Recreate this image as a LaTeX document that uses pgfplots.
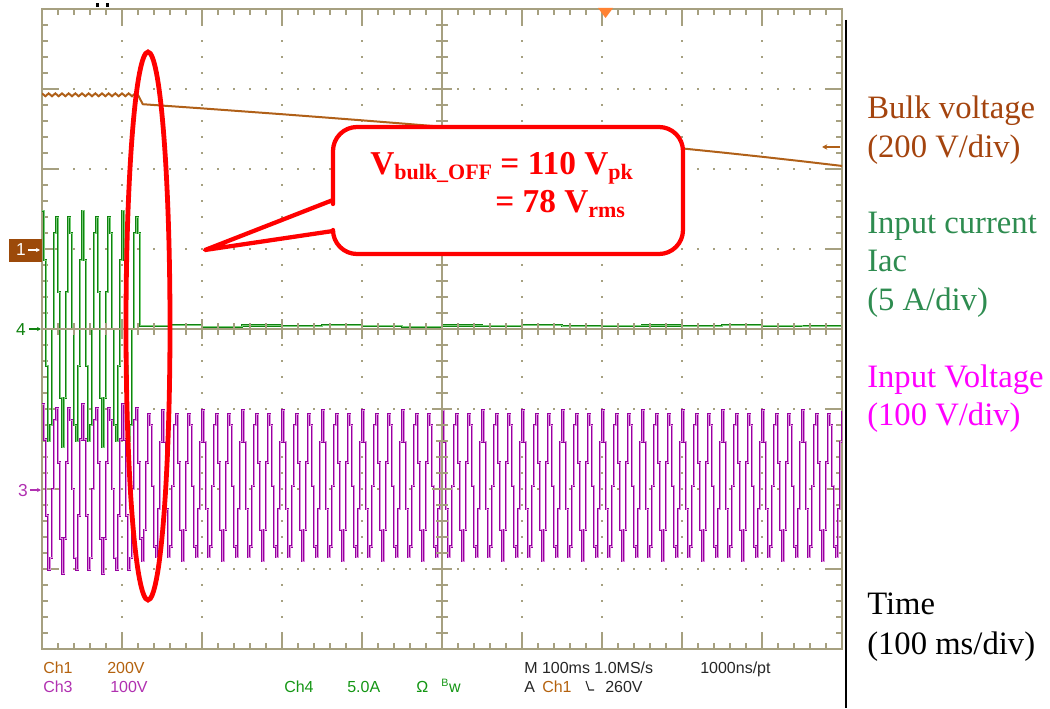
\documentclass[border=0pt]{standalone}
\usepackage{pgfplots}
\pgfplotsset{compat=1.18}
\usepackage{pgfplotstable}
\usepackage{fontspec}
\setmainfont{Liberation Serif}
\newfontfamily\scopefont{Liberation Sans}
\usetikzlibrary{arrows.meta}

\definecolor{scopegrid}{RGB}{166,160,128}
\definecolor{bulk}{RGB}{176,96,24}
\definecolor{bulktext}{RGB}{164,68,14}
\definecolor{curdark}{RGB}{16,130,16}
\definecolor{curlight}{RGB}{120,205,120}
\definecolor{curtext}{RGB}{46,140,80}
\definecolor{voldark}{RGB}{150,0,160}
\definecolor{vollight}{RGB}{220,140,220}
\definecolor{voltext}{RGB}{255,0,255}
\definecolor{ch1}{RGB}{180,98,14}
\definecolor{ch3}{RGB}{176,48,176}
\definecolor{ch4}{RGB}{20,150,20}
\definecolor{trig}{RGB}{255,130,50}
\definecolor{markbrown}{RGB}{156,74,10}

% Ch1: bulk voltage (ms, V)
\pgfplotstableread[row sep=\\]{
t v\\
0 389\\ 4.2 382\\ 8.3 389\\ 12.5 382\\ 16.7 389\\ 20.8 382\\ 25 389\\ 29.2 382\\ 33.3 389\\ 37.5 382\\
41.7 389\\ 45.8 382\\ 50 389\\ 54.2 382\\ 58.3 389\\ 62.5 382\\ 66.7 389\\ 70.8 382\\ 75 389\\ 79.2 382\\
83.3 389\\ 87.5 382\\ 91.7 389\\ 95.8 382\\ 100 389\\ 104.2 382\\ 108.3 389\\ 112.5 382\\ 116.7 389\\ 120 385\\
126 362\\ 150 358.6\\ 200 351.6\\ 250 344.3\\ 300 337.0\\ 350 329.4\\ 400 321.7\\ 450 313.8\\ 500 305.6\\
550 297.3\\ 600 288.7\\ 650 279.9\\ 700 270.7\\ 750 261.3\\ 800 251.5\\ 850 241.3\\ 900 230.6\\ 950 219.4\\ 1000 207.7\\
}\bulkdata

% Ch4: input current (ms, A)
\pgfplotstableread[row sep=\\]{
t v\\
0 7.4\\ 2.5 4.3\\ 5 -2.3\\ 7.5 -7.0\\ 10 -6.0\\ 12.5 0\\ 15 6.0\\ 17.5 7.0\\ 20 2.3\\ 22.5 -4.3\\
25 -7.4\\ 27.5 -4.3\\ 30 2.3\\ 32.5 7.0\\ 35 6.0\\ 37.5 0\\ 40 -6.0\\ 42.5 -7.0\\ 45 -2.3\\ 47.5 4.3\\
50 7.4\\ 52.5 4.3\\ 55 -2.3\\ 57.5 -7.0\\ 60 -6.0\\ 62.5 0\\ 65 6.0\\ 67.5 7.0\\ 70 2.3\\ 72.5 -4.3\\
75 -7.4\\ 77.5 -4.3\\ 80 2.3\\ 82.5 7.0\\ 85 6.0\\ 87.5 0\\ 90 -6.0\\ 92.5 -7.0\\ 95 -2.3\\ 97.5 4.3\\
100 7.4\\ 102.5 4.3\\ 105 -2.3\\ 107.5 -7.0\\ 110 -6.0\\ 112.5 0\\ 115 6.0\\ 117.5 7.0\\ 120 6.0\\ 122.5 0.2\\
160 0.25\\ 200 0.15\\ 250 0.22\\ 300 0.18\\ 350 0.25\\ 400 0.2\\ 450 0.15\\ 500 0.22\\ 550 0.2\\ 600 0.25\\
650 0.18\\ 700 0.2\\ 750 0.22\\ 800 0.17\\ 850 0.24\\ 900 0.2\\ 950 0.18\\ 1000 0.2\\
}\curdata

% Ch3: input voltage (ms, V)
\pgfplotstableread[row sep=\\]{
t v\\
0 106\\ 2.5 62\\ 5 -33\\ 7.5 -101\\ 10 -86\\ 12.5 0\\ 15 86\\ 17.5 101\\ 20 33\\ 22.5 -62\\ 25 -106\\ 27.5 -62\\ 30 33\\ 32.5 101\\ 35 86\\ 37.5 0\\ 40 -86\\ 42.5 -101\\ 45 -33\\ 47.5 62\\
50 106\\ 52.5 62\\ 55 -33\\ 57.5 -101\\ 60 -86\\ 62.5 0\\ 65 86\\ 67.5 101\\ 70 33\\ 72.5 -62\\ 75 -106\\ 77.5 -62\\ 80 33\\ 82.5 101\\ 85 86\\ 87.5 0\\ 90 -86\\ 92.5 -101\\ 95 -33\\ 97.5 62\\
100 106\\ 102.5 62\\ 105 -33\\ 107.5 -101\\ 110 -86\\ 112.5 0\\ 115 86\\ 117.5 101\\ 120 33\\ 122.5 -62\\ 125 -90\\ 127.5 -51\\ 130 33\\ 132.5 93\\ 135 80\\ 137.5 4\\ 140 -72\\ 142.5 -85\\ 145 -25\\ 147.5 59\\
150 98\\ 152.5 59\\ 155 -25\\ 157.5 -85\\ 160 -72\\ 162.5 4\\ 165 80\\ 167.5 93\\ 170 33\\ 172.5 -51\\ 175 -90\\ 177.5 -51\\ 180 33\\ 182.5 93\\ 185 80\\ 187.5 4\\ 190 -72\\ 192.5 -85\\ 195 -25\\ 197.5 59\\
200 98\\ 202.5 59\\ 205 -25\\ 207.5 -85\\ 210 -72\\ 212.5 4\\ 215 80\\ 217.5 93\\ 220 33\\ 222.5 -51\\ 225 -90\\ 227.5 -51\\ 230 33\\ 232.5 93\\ 235 80\\ 237.5 4\\ 240 -72\\ 242.5 -85\\ 245 -25\\ 247.5 59\\
250 98\\ 252.5 59\\ 255 -25\\ 257.5 -85\\ 260 -72\\ 262.5 4\\ 265 80\\ 267.5 93\\ 270 33\\ 272.5 -51\\ 275 -90\\ 277.5 -51\\ 280 33\\ 282.5 93\\ 285 80\\ 287.5 4\\ 290 -72\\ 292.5 -85\\ 295 -25\\ 297.5 59\\
300 98\\ 302.5 59\\ 305 -25\\ 307.5 -85\\ 310 -72\\ 312.5 4\\ 315 80\\ 317.5 93\\ 320 33\\ 322.5 -51\\ 325 -90\\ 327.5 -51\\ 330 33\\ 332.5 93\\ 335 80\\ 337.5 4\\ 340 -72\\ 342.5 -85\\ 345 -25\\ 347.5 59\\
350 98\\ 352.5 59\\ 355 -25\\ 357.5 -85\\ 360 -72\\ 362.5 4\\ 365 80\\ 367.5 93\\ 370 33\\ 372.5 -51\\ 375 -90\\ 377.5 -51\\ 380 33\\ 382.5 93\\ 385 80\\ 387.5 4\\ 390 -72\\ 392.5 -85\\ 395 -25\\ 397.5 59\\
400 98\\ 402.5 59\\ 405 -25\\ 407.5 -85\\ 410 -72\\ 412.5 4\\ 415 80\\ 417.5 93\\ 420 33\\ 422.5 -51\\ 425 -90\\ 427.5 -51\\ 430 33\\ 432.5 93\\ 435 80\\ 437.5 4\\ 440 -72\\ 442.5 -85\\ 445 -25\\ 447.5 59\\
450 98\\ 452.5 59\\ 455 -25\\ 457.5 -85\\ 460 -72\\ 462.5 4\\ 465 80\\ 467.5 93\\ 470 33\\ 472.5 -51\\ 475 -90\\ 477.5 -51\\ 480 33\\ 482.5 93\\ 485 80\\ 487.5 4\\ 490 -72\\ 492.5 -85\\ 495 -25\\ 497.5 59\\
500 98\\ 502.5 59\\ 505 -25\\ 507.5 -85\\ 510 -72\\ 512.5 4\\ 515 80\\ 517.5 93\\ 520 33\\ 522.5 -51\\ 525 -90\\ 527.5 -51\\ 530 33\\ 532.5 93\\ 535 80\\ 537.5 4\\ 540 -72\\ 542.5 -85\\ 545 -25\\ 547.5 59\\
550 98\\ 552.5 59\\ 555 -25\\ 557.5 -85\\ 560 -72\\ 562.5 4\\ 565 80\\ 567.5 93\\ 570 33\\ 572.5 -51\\ 575 -90\\ 577.5 -51\\ 580 33\\ 582.5 93\\ 585 80\\ 587.5 4\\ 590 -72\\ 592.5 -85\\ 595 -25\\ 597.5 59\\
600 98\\ 602.5 59\\ 605 -25\\ 607.5 -85\\ 610 -72\\ 612.5 4\\ 615 80\\ 617.5 93\\ 620 33\\ 622.5 -51\\ 625 -90\\ 627.5 -51\\ 630 33\\ 632.5 93\\ 635 80\\ 637.5 4\\ 640 -72\\ 642.5 -85\\ 645 -25\\ 647.5 59\\
650 98\\ 652.5 59\\ 655 -25\\ 657.5 -85\\ 660 -72\\ 662.5 4\\ 665 80\\ 667.5 93\\ 670 33\\ 672.5 -51\\ 675 -90\\ 677.5 -51\\ 680 33\\ 682.5 93\\ 685 80\\ 687.5 4\\ 690 -72\\ 692.5 -85\\ 695 -25\\ 697.5 59\\
700 98\\ 702.5 59\\ 705 -25\\ 707.5 -85\\ 710 -72\\ 712.5 4\\ 715 80\\ 717.5 93\\ 720 33\\ 722.5 -51\\ 725 -90\\ 727.5 -51\\ 730 33\\ 732.5 93\\ 735 80\\ 737.5 4\\ 740 -72\\ 742.5 -85\\ 745 -25\\ 747.5 59\\
750 98\\ 752.5 59\\ 755 -25\\ 757.5 -85\\ 760 -72\\ 762.5 4\\ 765 80\\ 767.5 93\\ 770 33\\ 772.5 -51\\ 775 -90\\ 777.5 -51\\ 780 33\\ 782.5 93\\ 785 80\\ 787.5 4\\ 790 -72\\ 792.5 -85\\ 795 -25\\ 797.5 59\\
800 98\\ 802.5 59\\ 805 -25\\ 807.5 -85\\ 810 -72\\ 812.5 4\\ 815 80\\ 817.5 93\\ 820 33\\ 822.5 -51\\ 825 -90\\ 827.5 -51\\ 830 33\\ 832.5 93\\ 835 80\\ 837.5 4\\ 840 -72\\ 842.5 -85\\ 845 -25\\ 847.5 59\\
850 98\\ 852.5 59\\ 855 -25\\ 857.5 -85\\ 860 -72\\ 862.5 4\\ 865 80\\ 867.5 93\\ 870 33\\ 872.5 -51\\ 875 -90\\ 877.5 -51\\ 880 33\\ 882.5 93\\ 885 80\\ 887.5 4\\ 890 -72\\ 892.5 -85\\ 895 -25\\ 897.5 59\\
900 98\\ 902.5 59\\ 905 -25\\ 907.5 -85\\ 910 -72\\ 912.5 4\\ 915 80\\ 917.5 93\\ 920 33\\ 922.5 -51\\ 925 -90\\ 927.5 -51\\ 930 33\\ 932.5 93\\ 935 80\\ 937.5 4\\ 940 -72\\ 942.5 -85\\ 945 -25\\ 947.5 59\\
950 98\\ 952.5 59\\ 955 -25\\ 957.5 -85\\ 960 -72\\ 962.5 4\\ 965 80\\ 967.5 93\\ 970 33\\ 972.5 -51\\ 975 -90\\ 977.5 -51\\ 980 33\\ 982.5 93\\ 985 80\\ 987.5 4\\ 990 -72\\ 992.5 -85\\ 995 -25\\ 997.5 59\\
1000 98\\
}\voltdata

\begin{document}
\begin{tikzpicture}
\begin{axis}[
  at={(0,0)}, anchor=south west,
  scale only axis, width=600pt, height=480pt,
  xmin=0, xmax=1000, ymin=-4, ymax=4,
  xtick={0,100,...,1000}, ytick={-4,-3,...,4},
  minor x tick num=4, minor y tick num=4,
  xticklabels={}, yticklabels={},
  tick align=inside,
  major tick length=12pt, minor tick length=4.5pt,
  every tick/.style={scopegrid, line width=1pt},
  axis line style={scopegrid, line width=1.1pt},
  grid=major,
  major grid style={scopegrid, line width=1.2pt, dash pattern=on 1.2pt off 10.8pt, dash phase=0.6pt},
]
\addplot[const plot, voldark, line width=1.7pt, y filter/.expression={-2+y/100}] table[x=t,y=v] {\voltdata};
\addplot[const plot, vollight, line width=0.55pt, y filter/.expression={-2+y/100}] table[x=t,y=v] {\voltdata};
\addplot[const plot, curdark, line width=1.6pt, y filter/.expression={y/5}] table[x=t,y=v] {\curdata};
\addplot[const plot, curlight, line width=0.5pt, y filter/.expression={y/5}] table[x=t,y=v] {\curdata};
\addplot[bulk, line width=1.5pt, y filter/.expression={1+y/200}] table[x=t,y=v] {\bulkdata};
\end{axis}

\begin{scope}[x=0.75pt,y=-0.75pt,shift={(-31.5pt,486.75pt)}]
% centre cross with ticks
\draw[scopegrid, line width=1pt] (442,9) -- (442,649);
\draw[scopegrid, line width=1pt] (42,329) -- (842,329);
\foreach \k in {0,...,40} \draw[scopegrid, line width=0.9pt] (436,{9+16*\k}) -- (448,{9+16*\k});
\foreach \k in {0,...,8} \draw[scopegrid, line width=0.9pt] (432,{9+80*\k}) -- (452,{9+80*\k});
\foreach \k in {0,...,50} \draw[scopegrid, line width=0.9pt] ({42+16*\k},323) -- ({42+16*\k},335);
\foreach \k in {0,...,10} \draw[scopegrid, line width=0.9pt] ({42+80*\k},319) -- ({42+80*\k},339);

% top markers
\fill[black] (96,3) rectangle (98.5,7);
\fill[black] (106,3) rectangle (108.5,7);
\fill[trig] (598,8) -- (613,8) -- (605.5,18) -- cycle;

% channel markers
\fill[markbrown] (9,239) rectangle (42,262);
\node[white, font=\scopefont\fontsize{13}{13}\selectfont, anchor=base, inner sep=0] at (21,256) {1};
\draw[white, line width=0.8pt, -{Stealth[length=3pt,width=3pt]}] (28,250) -- (40,250);
\node[curdark, font=\scopefont\fontsize{13}{13}\selectfont, anchor=base, inner sep=0] at (21,335) {4};
\draw[curdark, line width=0.8pt, -{Stealth[length=3pt,width=3pt]}] (29,329) -- (41,329);
\node[ch3, font=\scopefont\fontsize{13}{13}\selectfont, anchor=base, inner sep=0] at (23,496) {3};
\draw[ch3, line width=0.8pt, -{Stealth[length=3pt,width=3pt]}] (30,490) -- (41,490);
\draw[bulk, line width=1.1pt, -{Stealth[length=4pt,width=4pt]}] (840,147) -- (822,147);

% right border line
\draw[black, line width=0.9pt] (846,20) -- (846,708);

% ellipse
\draw[red, line width=3.6pt] (148,326) ellipse [x radius=16.5pt, y radius=205.5pt];

% callout
\filldraw[fill=white, draw=red, line width=3.2pt, line join=round]
  (333,200) -- (205,250) -- (333,231) [rounded corners=18pt] -- (333,254) -- (683,254) -- (683,127) -- (333,127) -- (333,180) [sharp corners] -- cycle;
\node[anchor=base west, text=red, font=\fontsize{25}{30}\selectfont\bfseries, inner sep=0] at (370,175)
  {V\raisebox{-3.5pt}{\fontsize{16.5}{18}\selectfont bulk\_OFF} = 110 V\raisebox{-3.5pt}{\fontsize{16.5}{18}\selectfont pk}};
\node[anchor=base west, text=red, font=\fontsize{25}{30}\selectfont\bfseries, inner sep=0] at (495,213)
  {= 78 V\raisebox{-3.5pt}{\fontsize{16.5}{18}\selectfont rms}};

% right-hand labels
\tikzset{lab/.style={anchor=base west, inner sep=0, font=\fontsize{24.5}{29}\selectfont}}
\node[lab, text=bulktext] at (867,119) {Bulk voltage};
\node[lab, text=bulktext] at (867,158) {(200 V/div)};
\node[lab, text=curtext] at (867,233) {Input current};
\node[lab, text=curtext] at (867,271) {Iac};
\node[lab, text=curtext] at (867,310) {(5 A/div)};
\node[lab, text=voltext] at (867,387) {Input Voltage};
\node[lab, text=voltext] at (867,425) {(100 V/div)};
\node[lab, text=black] at (867,614) {Time};
\node[lab, text=black] at (867,654) {(100 ms/div)};

% scope read-outs
\tikzset{ro/.style={anchor=base west, inner sep=0, font=\scopefont\fontsize{12}{14}\selectfont}}
\node[ro, text=ch1] at (43,673) {Ch1};
\node[ro, text=ch1] at (107,673) {200V};
\node[ro, text=ch3] at (43,692) {Ch3};
\node[ro, text=ch3] at (110,692) {100V};
\node[ro, text=ch4] at (284,692) {Ch4};
\node[ro, text=ch4] at (347,692) {5.0A};
\node[ro, text=ch4] at (416,692) {Ω};
\node[ro, text=ch4] at (441,692) {\textsuperscript{B}w};
\node[ro, text=black!85] at (524,673) {M 100ms 1.0MS/s};
\node[ro, text=black!85] at (700,673) {1000ns/pt};
\node[ro, text=black!85] at (524,692) {A};
\node[ro, text=ch1] at (542,692) {Ch1};
\draw[black!85, line width=0.8pt] (586,681) -- (589,690) -- (594,690);
\node[ro, text=black!85] at (605,692) {260V};

\pgfresetboundingbox
\useasboundingbox (0,0) rectangle (1050,708);
\end{scope}
\end{tikzpicture}
\end{document}
